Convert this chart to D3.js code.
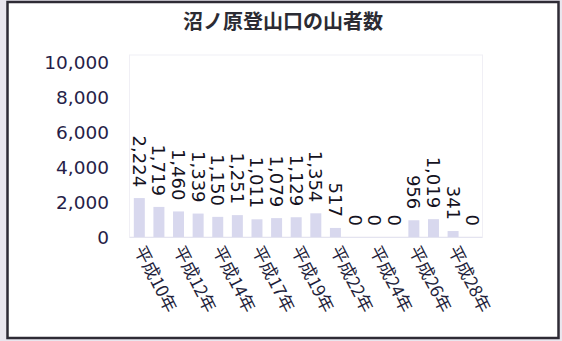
<!DOCTYPE html>
<html><head><meta charset="utf-8">
<script src="https://cdn.jsdelivr.net/npm/d3@7"></script>
<style>html,body{margin:0;padding:0;background:#fff;}svg{display:block;}</style>
</head><body><svg id="c" width="562" height="341"></svg>
<script>
const title = "沼ノ原登山口の山者数";
const categories = ["平成10年","平成11年","平成12年","平成13年","平成14年","平成16年","平成17年","平成18年","平成19年","平成21年","平成22年","平成23年","平成24年","平成25年","平成26年","平成27年","平成28年","平成29年"];
const values = [2224,1719,1460,1339,1150,1251,1011,1079,1129,1354,517,0,0,0,956,1019,341,0];
const yTicks = [0,2000,4000,6000,8000,10000];

const svg = d3.select("#c");
const W = 562, H = 341;
svg.append("rect").attr("x",0).attr("y",0).attr("width",W).attr("height",H).attr("fill","#e9e6ee");
svg.append("rect").attr("x",7.5).attr("y",2).attr("width",551).attr("height",336)
  .attr("fill","#ffffff").attr("stroke","#2e2b35").attr("stroke-width",2.5);

const x = d3.scaleBand().domain(categories).range([129.5, 482.5]).paddingInner(0.44).paddingOuter(0.22);
const y = d3.scaleLinear().domain([0,10000]).range([237, 62]);

svg.append("rect").attr("x",129.5).attr("y",55).attr("width",353).attr("height",182)
  .attr("fill","none").attr("stroke","#f0eff5").attr("stroke-width",1);

svg.append("text").attr("x",283).attr("y",29).attr("text-anchor","middle")
  .attr("font-family","'Noto Sans CJK JP'").attr("font-weight","bold").attr("font-size",20)
  .attr("fill","#2b2b33").text(title);

const yAxis = d3.axisLeft(y).tickValues(yTicks).tickFormat(d3.format(",")).tickSize(0).tickPadding(0);
const gy = svg.append("g").attr("transform","translate(109,0)").call(yAxis);
gy.select(".domain").remove();
gy.selectAll("text").attr("font-family","'DejaVu Sans'").attr("font-size",18.5).attr("fill","#261e48").attr("dy","0.36em");

svg.append("g").selectAll("rect").data(values).join("rect")
  .attr("x",(d,i)=>x(categories[i])).attr("width",x.bandwidth())
  .attr("y",d=>y(d)).attr("height",d=>y(0)-y(d))
  .attr("fill","#d8d8ee");

svg.append("line").attr("x1",129.5).attr("x2",482.5).attr("y1",237.5).attr("y2",237.5)
  .attr("stroke","#e4e4f0").attr("stroke-width",1);

svg.append("g").selectAll("text").data(values).join("text")
  .attr("transform",(d,i)=>`translate(${x(categories[i])+x.bandwidth()/2},${y(d)-11}) rotate(90)`)
  .attr("text-anchor","end").attr("dy","0.36em")
  .attr("font-family","'DejaVu Sans'").attr("font-size",18).attr("fill","#15131f")
  .text(d=>d3.format(",")(d));

const xAxis = d3.axisBottom(x).tickValues(categories.filter((c,i)=>i%2===0)).tickSize(0).tickPadding(0);
const gx = svg.append("g").attr("transform","translate(0,247)").call(xAxis);
gx.select(".domain").remove();
gx.selectAll("text")
  .attr("font-family","'Noto Sans CJK JP'").attr("font-size",17.5).attr("fill","#1f1f3c")
  .attr("text-anchor","start").attr("dy","0.35em").attr("y",0)
  .attr("transform","rotate(63)");
</script></body></html>
